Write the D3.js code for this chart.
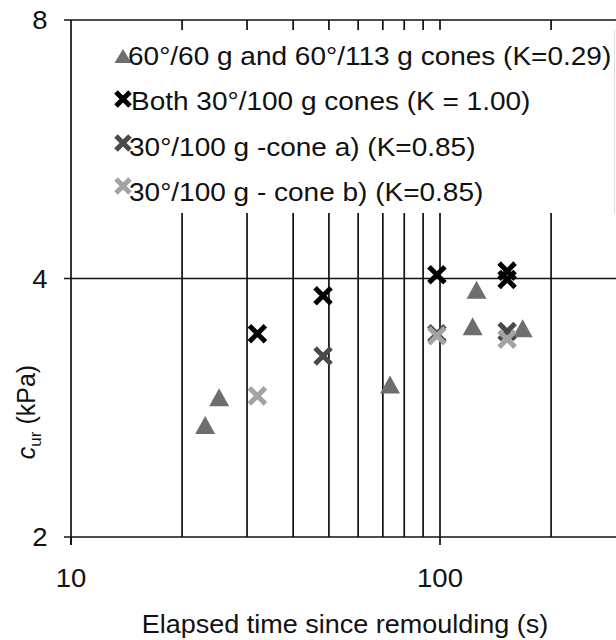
<!DOCTYPE html>
<html>
<head>
<meta charset="utf-8">
<script src="https://cdn.jsdelivr.net/npm/d3@7"></script>
<style>
  html, body { margin: 0; padding: 0; background: #fff; }
  svg text { font-family: "Liberation Sans", Arial, sans-serif; fill: #111; }
</style>
</head>
<body>
<script>
// ---- data ----
const triTime   = [23.1, 25.2, 73.2, 122.6, 125.6, 167.5];
const triCur    = [2.70, 2.91, 3.01, 3.52, 3.88, 3.50];
const bothTime  = [32.0, 48.2, 98.1, 152, 152];
const bothCur   = [3.45, 3.82, 4.04, 4.08, 3.99];
const coneATime = [48.2, 98.1, 152];
const coneACur  = [3.25, 3.45, 3.47];
const coneBTime = [32.0, 98.1, 152];
const coneBCur  = [2.92, 3.43, 3.40];
const xTickLabels = [10, 100];
const xGrid = [20, 30, 40, 50, 60, 70, 80, 90, 100, 200];
const yTickLabels = [2, 4, 8];
const legendLabels = [
  "60°/60 g and 60°/113 g cones (K=0.29)",
  "Both 30°/100 g cones (K = 1.00)",
  "30°/100 g -cone a) (K=0.85)",
  "30°/100 g - cone b) (K=0.85)"
];

const W = 616, H = 640;
const svg = d3.select("body").append("svg").attr("width", W).attr("height", H);

const x = d3.scaleLog().domain([10, 1000]).range([71, 71 + 2 * 369]);
const y = d3.scaleLog().base(2).domain([2, 8]).range([537, 20]);

const colTri = "#6e6e6e", colBoth = "#000", colA = "#4a4a4a", colB = "#a3a3a3";

// vertical grid lines
svg.append("g").selectAll("line").data(xGrid).join("line")
  .attr("x1", d => x(d)).attr("x2", d => x(d))
  .attr("y1", y(8)).attr("y2", y(2))
  .attr("stroke", "#111").attr("stroke-width", 1.7);

// horizontal grid lines + outward ticks
svg.append("g").selectAll("line").data(yTickLabels).join("line")
  .attr("x1", x(10) - 7).attr("x2", W)
  .attr("y1", d => y(d)).attr("y2", d => y(d))
  .attr("stroke", "#111").attr("stroke-width", 1.7);

// y axis line
svg.append("line").attr("x1", x(10)).attr("x2", x(10))
  .attr("y1", y(8)).attr("y2", y(2) + 8)
  .attr("stroke", "#111").attr("stroke-width", 1.7);
// major x ticks below axis
svg.append("g").selectAll("line").data(xTickLabels).join("line")
  .attr("x1", d => x(d)).attr("x2", d => x(d))
  .attr("y1", y(2)).attr("y2", y(2) + 8)
  .attr("stroke", "#111").attr("stroke-width", 1.7);

// legend box (white, covers gridlines)
svg.append("rect").attr("x", x(10) + 1).attr("y", 30)
  .attr("width", 614 - x(10) - 1).attr("height", 183)
  .attr("fill", "#fff");
svg.append("line").attr("x1", 614.5).attr("x2", 614.5).attr("y1", 30).attr("y2", 213)
  .attr("stroke", "#ddd").attr("stroke-width", 1);

// marker helpers
function cross(g, cx, cy, s, col, sw) {
  g.append("path")
    .attr("d", `M${cx - s},${cy - s}L${cx + s},${cy + s}M${cx - s},${cy + s}L${cx + s},${cy - s}`)
    .attr("stroke", col).attr("stroke-width", sw).attr("fill", "none");
}
function tri(g, cx, cy, w, h, col) {
  g.append("path")
    .attr("d", `M${cx},${cy - h / 2}L${cx + w / 2},${cy + h / 2}L${cx - w / 2},${cy + h / 2}Z`)
    .attr("fill", col);
}

const pts = svg.append("g");
triTime.forEach((t, i) => tri(pts, x(t), y(triCur[i]), 20, 18, colTri));
bothTime.forEach((t, i) => cross(pts, x(t), y(bothCur[i]), 8, colBoth, 5));
coneATime.forEach((t, i) => cross(pts, x(t), y(coneACur[i]), 8, colA, 5));
coneBTime.forEach((t, i) => cross(pts, x(t), y(coneBCur[i]), 8, colB, 5));

// legend
const leg = svg.append("g");
const rowY = [56, 101, 147, 192];
tri(leg, 123, rowY[0], 17, 14, colTri);
cross(leg, 123, rowY[1] - 2, 7, colBoth, 5);
cross(leg, 123, rowY[2] - 4, 7, colA, 5);
cross(leg, 123, rowY[3] - 6, 7, colB, 5);
const legX = [128, 131, 129, 129];
legendLabels.forEach((s, i) => {
  leg.append("text")
    .attr("transform", `translate(${legX[i]},${rowY[i] + 9}) scale(1.12,1)`)
    .attr("font-size", 25).text(s);
});

// y tick labels
svg.append("g").selectAll("text").data(yTickLabels).join("text")
  .attr("transform", d => `translate(40,${y(d) + 9}) scale(1.1,1)`)
  .attr("text-anchor", "middle").attr("font-size", 25).text(d => d);

// x tick labels
svg.append("g").selectAll("text").data(xTickLabels).join("text")
  .attr("transform", d => `translate(${x(d)},${587}) scale(1.1,1)`)
  .attr("text-anchor", "middle").attr("font-size", 25).text(d => d);

// x title
svg.append("text")
  .attr("transform", `translate(345,633) scale(1.08,1)`)
  .attr("text-anchor", "middle").attr("font-size", 25)
  .text("Elapsed time since remoulding (s)");

// y title
const yt = svg.append("text")
  .attr("transform", "translate(35,412) rotate(-90)")
  .attr("text-anchor", "middle").attr("font-size", 25);
yt.append("tspan").attr("font-style", "italic").text("c");
yt.append("tspan").attr("font-size", 17).attr("dy", 6).text("ur");
yt.append("tspan").attr("dy", -6).text(" (kPa)");
</script>
</body>
</html>
